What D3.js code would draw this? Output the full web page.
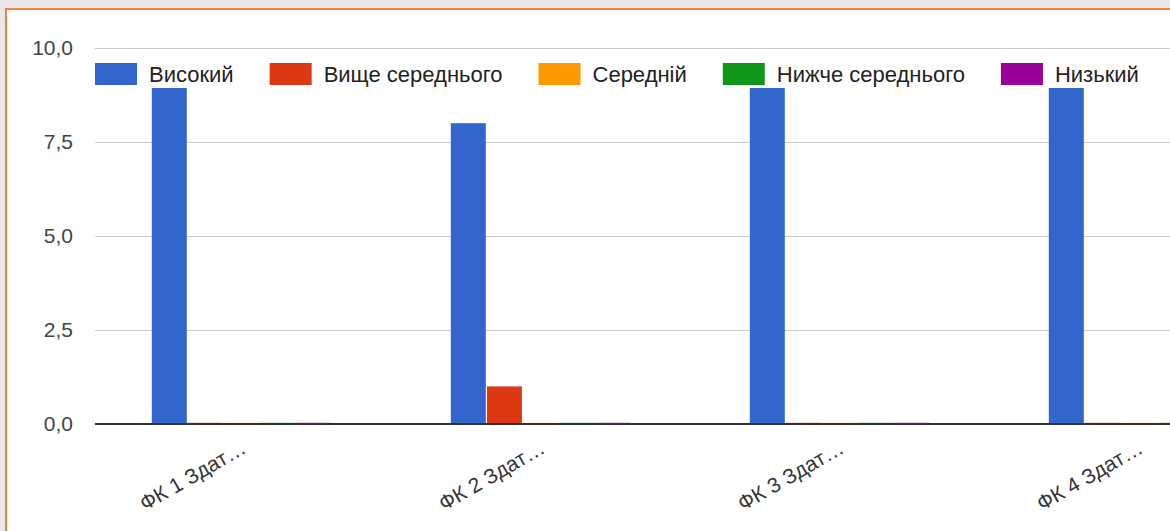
<!DOCTYPE html>
<html>
<head>
<meta charset="utf-8">
<script src="https://cdn.jsdelivr.net/npm/d3@7"></script>
<style>
  body { margin: 0; background: #e8e8e8; }
  svg { display: block; font-family: "Liberation Sans", Arial, sans-serif; }
</style>
</head>
<body>
<div id="chart"></div>
<script>
const categories = ["ФК 1 Здат…", "ФК 2 Здат…", "ФК 3 Здат…", "ФК 4 Здат…"];
const seriesNames = ["Високий", "Вище середнього", "Середній", "Нижче середнього", "Низький"];
const colors = ["#3366cc", "#dc3912", "#ff9900", "#109618", "#990099"];
// values[seriesIndex][categoryIndex]
const values = [
  [9, 8, 9, 9],
  [0, 1, 0, 0],
  [0, 0, 0, 0],
  [0, 0, 0, 0],
  [0, 0, 0, 0]
];
const yTicks = [0, 2.5, 5, 7.5, 10];

const W = 1170, H = 531;
const plot = {left: 92, top: 48, bottom: 424, step: 299};

const svg = d3.select("#chart").append("svg")
    .attr("width", W)
    .attr("height", H);

// page background + card
svg.append("rect").attr("width", W).attr("height", H).attr("fill", "#e8e8e8");
svg.append("rect")
    .attr("x", 6).attr("y", 9)
    .attr("width", W + 20).attr("height", H + 20)
    .attr("fill", "#fff")
    .attr("stroke", "#f0843f")
    .attr("stroke-width", 2);

const y = d3.scaleLinear().domain([0, 10]).range([plot.bottom, plot.top]);
const x0 = d3.scaleBand()
    .domain(categories)
    .range([plot.left, plot.left + plot.step * categories.length])
    .paddingInner(0.4)
    .paddingOuter(0.2);
const x1 = d3.scaleBand()
    .domain(seriesNames)
    .range([0, x0.bandwidth()])
    .paddingInner(0.03);

const fmt = d => d3.format(".1f")(d).replace(".", ",");

// gridlines
svg.append("g")
    .selectAll("line")
    .data(yTicks.filter(d => d > 0))
    .join("line")
    .attr("x1", 95).attr("x2", W)
    .attr("y1", d => Math.round(y(d)) + 0.5)
    .attr("y2", d => Math.round(y(d)) + 0.5)
    .attr("stroke", "#cccccc");

// y axis labels
const yAxis = d3.axisLeft(y).tickValues(yTicks).tickFormat(fmt).tickSize(0).tickPadding(0);
svg.append("g")
    .attr("transform", "translate(73,0)")
    .call(yAxis)
    .call(g => g.select(".domain").remove())
    .selectAll("text")
    .attr("fill", "#444")
    .style("font-size", "21px")
    .style("font-family", "Liberation Sans, Arial, sans-serif");

// bars
const data = [];
seriesNames.forEach((s, si) => {
    categories.forEach((c, ci) => {
        data.push({series: s, cat: c, value: values[si][ci], color: colors[si]});
    });
});

svg.append("g")
    .selectAll("rect")
    .data(data)
    .join("rect")
    .attr("x", d => x0(d.cat) + x1(d.series))
    .attr("width", x1.bandwidth())
    .attr("y", d => d.value > 0 ? y(d.value) : y(0) - 2)
    .attr("height", d => d.value > 0 ? y(0) - y(d.value) : 2)
    .attr("fill", d => d.color)
    .attr("opacity", d => d.value > 0 ? 1 : 0.18);

// baseline
svg.append("line")
    .attr("x1", 95).attr("x2", W)
    .attr("y1", y(0)).attr("y2", y(0))
    .attr("stroke", "#333")
    .attr("stroke-width", 2);

// x labels
svg.append("g")
    .selectAll("text")
    .data(categories)
    .join("text")
    .attr("transform", d => `translate(${x0(d) + x0.bandwidth() / 2 + 6}, 452) rotate(-30)`)
    .attr("text-anchor", "end")
    .attr("fill", "#333")
    .style("font-size", "21px")
    .text(d => d);

// legend (drawn over bars, google-style)
const legend = svg.append("g");
legend.append("rect")
    .attr("x", 90).attr("y", 58)
    .attr("width", W).attr("height", 30)
    .attr("fill", "#fff");

let lx = 95;
seriesNames.forEach((s, i) => {
    const g = legend.append("g").attr("transform", `translate(${lx},0)`);
    g.append("rect")
        .attr("x", 0).attr("y", 63)
        .attr("width", 42).attr("height", 22)
        .attr("fill", colors[i]);
    const t = g.append("text")
        .attr("x", 54).attr("y", 82)
        .attr("fill", "#222")
        .style("font-size", "22px")
        .text(s);
    lx += 54 + t.node().getComputedTextLength() + 36;
});
</script>
</body>
</html>
